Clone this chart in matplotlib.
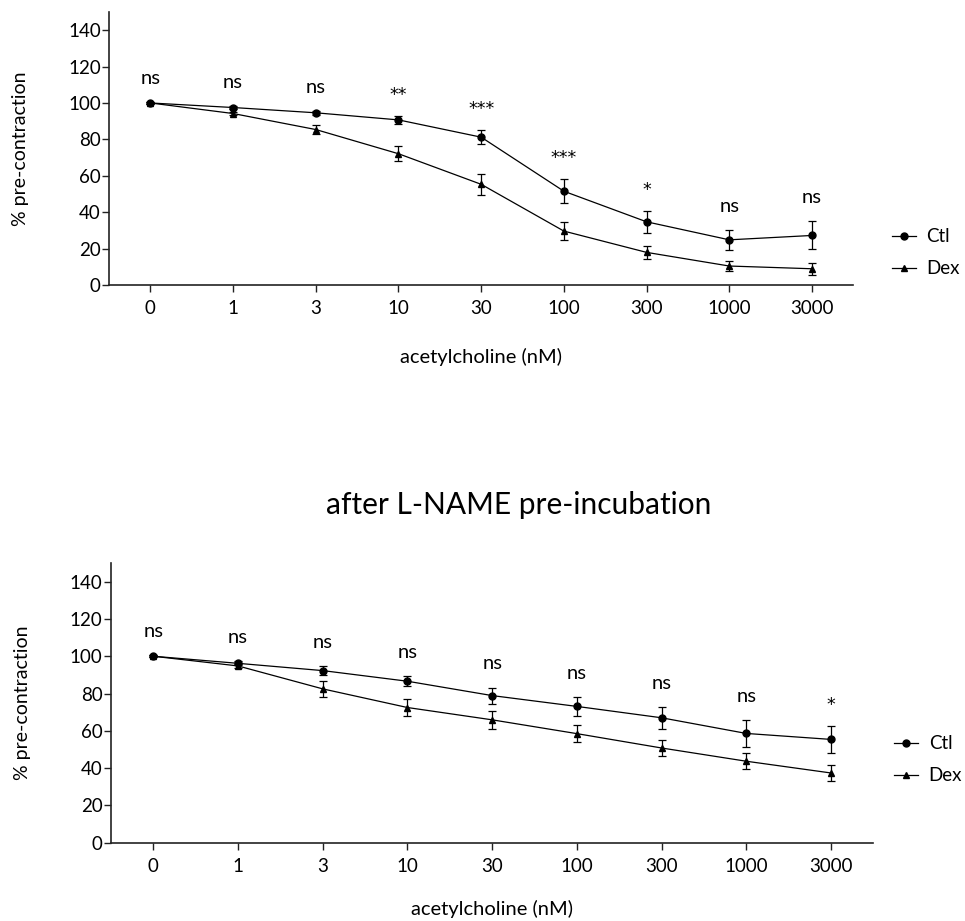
import matplotlib

matplotlib.use("Agg")
import matplotlib.pyplot as plt

plt.rcParams["font.family"] = ["Lato", "DejaVu Sans"]

# acetylcholine concentrations (nM), shown as evenly spaced categories
doses = ["0", "1", "3", "10", "30", "100", "300", "1000", "3000"]

# relaxation without L-NAME: mean and SEM (% pre-contraction)
ctl_mean = [100.0, 97.5, 94.6, 90.7, 81.2, 51.5, 34.7, 24.8, 27.2]
ctl_sem = [0.5, 1.0, 1.0, 2.0, 4.0, 6.6, 6.1, 5.5, 7.7]
dex_mean = [100.0, 94.2, 85.4, 72.1, 55.3, 29.6, 17.9, 10.4, 8.9]
dex_sem = [0.5, 1.0, 2.4, 4.1, 5.7, 5.0, 3.5, 2.5, 3.2]
sig = ["ns", "ns", "ns", "**", "***", "***", "*", "ns", "ns"]

# relaxation after L-NAME pre-incubation
ctl_mean_ln = [100.0, 96.2, 92.3, 86.6, 78.9, 73.1, 67.0, 58.6, 55.4]
ctl_sem_ln = [0.5, 1.0, 2.2, 2.6, 4.3, 4.9, 5.8, 7.1, 7.4]
dex_mean_ln = [100.0, 94.8, 82.5, 72.5, 65.9, 58.5, 50.8, 43.7, 37.4]
dex_sem_ln = [0.5, 1.0, 4.1, 4.6, 4.7, 4.7, 4.3, 4.4, 4.1]
sig_ln = ["ns", "ns", "ns", "ns", "ns", "ns", "ns", "ns", "*"]

AX_COLOR = "#222222"


def draw_panel(ax, ctl, ctl_err, dex, dex_err, labels, legend_xy):
    x = list(range(len(doses)))
    ax.errorbar(x, dex, yerr=dex_err, color="black", lw=0.9, marker="^",
                ms=4.5, capsize=3, capthick=0.9, elinewidth=0.9, label="Dex")
    ax.errorbar(x, ctl, yerr=ctl_err, color="black", lw=0.9, marker="o",
                ms=5, capsize=3, capthick=0.9, elinewidth=0.9, label="Ctl")

    # significance marks sit a fixed distance above the Ctl error bar;
    # asterisks use DejaVu, whose star is closer in weight to the "ns" text
    for xi, m, e, lab in zip(x, ctl, ctl_err, labels):
        if lab.startswith("*"):
            ax.annotate(lab, (xi, m + e), xytext=(0, 15), textcoords="offset points",
                        ha="center", va="center", fontsize=12.5,
                        family="DejaVu Sans")
        else:
            ax.annotate(lab, (xi, m + e), xytext=(0, 17), textcoords="offset points",
                        ha="center", va="center", fontsize=14.5)

    ax.set_xlim(-0.5, len(doses) - 0.5)
    ax.set_ylim(0, 150)
    ax.set_yticks(range(0, 141, 20))
    ax.set_xticks(x)
    ax.set_xticklabels(doses)
    for side in ("top", "right"):
        ax.spines[side].set_visible(False)
    for side in ("left", "bottom"):
        ax.spines[side].set_color(AX_COLOR)
        ax.spines[side].set_linewidth(1.2)
    ax.tick_params(axis="both", direction="out", length=5, width=1.0,
                   color=AX_COLOR, labelsize=13.5)
    ax.tick_params(axis="x", pad=6)
    ax.tick_params(axis="y", pad=1)
    ax.set_ylabel("% pre-contraction", fontsize=14, labelpad=28)

    handles, names = ax.get_legend_handles_labels()
    handles = [h[0] for h in handles[::-1]]
    ax.legend(handles, names[::-1], loc="center left", bbox_to_anchor=legend_xy,
              bbox_transform=ax.figure.transFigure, frameon=False, fontsize=13.5,
              handlelength=1.3, handletextpad=0.55, labelspacing=0.8,
              borderpad=0, borderaxespad=0)


fig = plt.figure(figsize=(9.65, 9.21), dpi=100)

ax_top = fig.add_axes([0.1130, 0.6906, 0.7713, 0.2964])
draw_panel(ax_top, ctl_mean, ctl_sem, dex_mean, dex_sem, sig, (0.924, 0.7253))
ax_top.set_xlabel("acetylcholine (nM)", fontsize=14.5, labelpad=22)

ax_bot = fig.add_axes([0.1150, 0.0850, 0.7900, 0.3037])
draw_panel(ax_bot, ctl_mean_ln, ctl_sem_ln, dex_mean_ln, dex_sem_ln, sig_ln,
           (0.9264, 0.1751))
ax_bot.set_xlabel("acetylcholine (nM)", fontsize=14.5, labelpad=18)

fig.text(0.537, 0.452, "after L-NAME pre-incubation", ha="center", va="center",
         fontsize=21.5)

fig.savefig("out.png", dpi=100, facecolor="white")
